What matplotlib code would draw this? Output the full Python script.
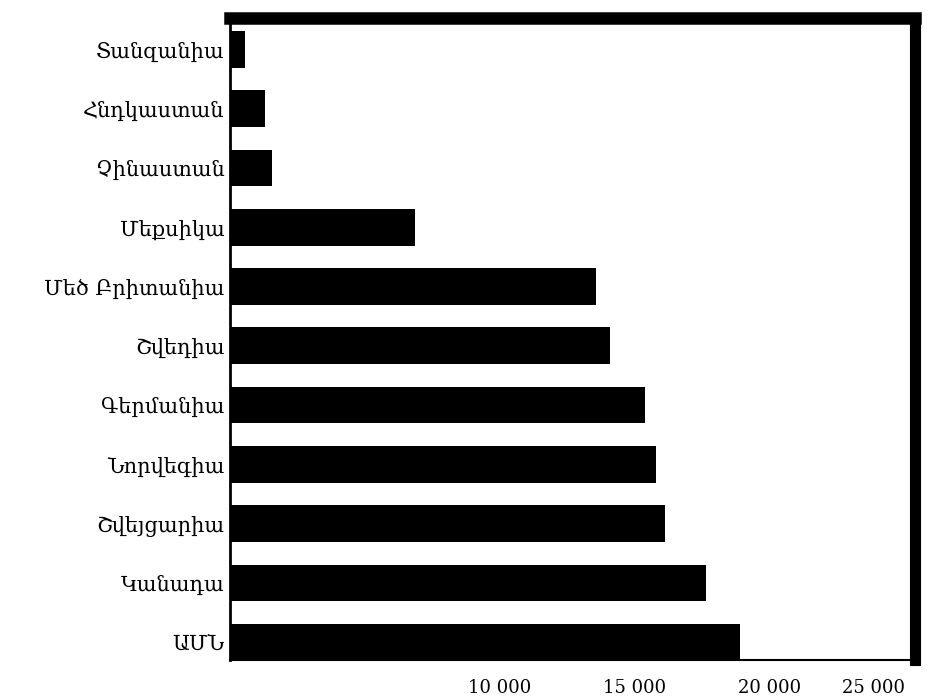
import numpy as np
import matplotlib.pyplot as plt

# Երկրներ (ներքևից վերև) և արժեքներ
erkrner = ['ԱՄՆ', 'Կանադա', 'Շվեյցարիա', 'Նորվեգիա', 'Գերմանիա', 'Շվեդիա',
           'Մեծ Բրիտանիա', 'Մեքսիկա', 'Չինաստան', 'Հնդկաստան', 'Տանզանիա']
arzheqner = [18890, 17630, 16110, 15780, 15370, 14070,
             13560, 6850, 1560, 1300, 560]
tick_arzheqner = [10000, 15000, 20000, 25000]
tick_texter = ['10 000', '15 000', '20 000', '25 000']

plt.rcParams['font.family'] = ['DejaVu Serif', 'DejaVu Sans']

fig = plt.figure(figsize=(9.3, 6.96), dpi=100)
ax = fig.add_axes([230 / 930, 36 / 696, 685 / 930, 642 / 696])

y = np.arange(len(erkrner))
ax.barh(y, arzheqner, height=0.62, color='black')

ax.set_xlim(0, 25370)
ax.set_ylim(-0.3, len(erkrner) - 0.47)
ax.set_yticks(y)
ax.set_yticklabels(erkrner, fontsize=15)
ax.set_xticks(tick_arzheqner)
ax.set_xticklabels(tick_texter, fontsize=13)
ax.tick_params(axis='y', length=0, pad=4)
ax.tick_params(axis='x', length=0, pad=14)
# վերջին նշումը մի փոքր ձախ, որ չկտրվի
ax.get_xticklabels()[-1].set_horizontalalignment('right')
ax.get_xticklabels()[-1].set_x(25000)

ax.spines['left'].set_linewidth(2)
ax.spines['bottom'].set_linewidth(1.5)
ax.spines['top'].set_linewidth(9)
ax.spines['right'].set_linewidth(8)

fig.savefig('out.png', dpi=100)
